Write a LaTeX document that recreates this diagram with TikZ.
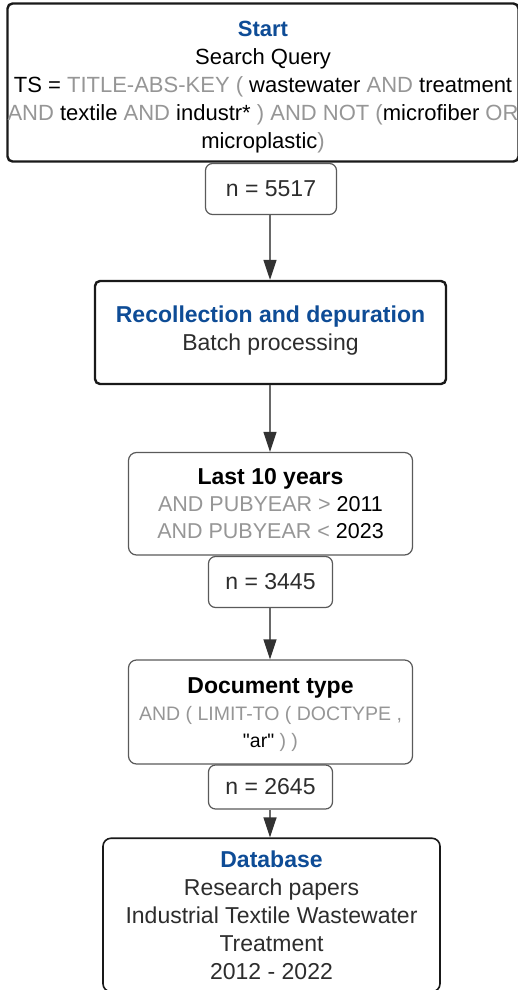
\documentclass[tikz,border=0pt]{standalone}
\usepackage{xcolor}
\usepackage{fontspec}
\setmainfont{Liberation Sans}
\usetikzlibrary{positioning, arrows.meta}
\definecolor{QBlue}{RGB}{14,76,150}
\definecolor{QGray}{RGB}{150,150,150}
\definecolor{QInk}{RGB}{45,45,45}
\definecolor{QEdge}{RGB}{90,90,90}
\definecolor{QLine}{RGB}{105,105,105}
\definecolor{QTip}{RGB}{50,50,50}
\newcommand{\kw}[1]{\textcolor{QGray}{#1}}
\newcommand{\ttl}[1]{{\bfseries\color{QBlue}#1}}

\begin{document}
\begin{tikzpicture}[x=1pt, y=-1pt,
          stage/.style={rectangle, rounded corners=5pt, draw=black!90, line width=2.4pt,
                        fill=white, inner sep=0pt, align=center, text=QInk,
                        font=\fontsize{23}{28}\selectfont},
          filter/.style={rectangle, rounded corners=8pt, draw=QEdge, line width=1.2pt,
                         fill=white, inner sep=0pt, align=center, text=black,
                         font=\fontsize{21.5}{27}\selectfont},
          count/.style={filter, rounded corners=7pt, minimum width=124pt, text=QInk,
                        font=\fontsize{23}{28}\selectfont},
          arr/.style={draw=QLine, line width=1.3pt,
                      -{Triangle[length=20pt, width=13pt, color=QTip]}}
        ]
        \useasboundingbox (0,0) rectangle (517,990);

        % search query
        \node[stage, minimum width=506pt, minimum height=158pt, text=black,
              font=\fontsize{22}{28}\selectfont] (query) at (263,82.5)
              {\rule{0pt}{24pt}\ttl{Start}\\Search Query\\
               TS = \kw{TITLE-ABS-KEY (} wastewater \kw{AND} treatment\\
               \kw{AND} textile \kw{AND} industr* \kw{) AND NOT (}microfiber \kw{OR}\\
               microplastic\kw{)}};
        \node[count, minimum width=131pt, minimum height=51pt] (n1) at (271,189)
              {n = 5517};

        % batch step
        \node[stage, minimum width=351pt, minimum height=103pt] (batch) at (270.5,332.5)
              {\ttl{Recollection and depuration}\\Batch processing\rule[-8pt]{0pt}{0pt}};

        % year filter
        \node[filter, minimum width=284pt, minimum height=102.5pt] (years) at (270.5,503.75)
              {{\fontsize{23}{28}\selectfont\bfseries Last 10 years}\\
               \kw{AND PUBYEAR >} 2011\\
               \kw{AND PUBYEAR <} 2023};
        \node[count, minimum height=51pt] (n2) at (270.5,582) {n = 3445};

        % document type filter
        \node[filter, minimum width=284pt, minimum height=104pt] (doctype) at (270.5,712)
              {\rule{0pt}{22pt}{\fontsize{23}{28}\selectfont\bfseries Document type}\\
               {\fontsize{19.5}{26}\selectfont\kw{AND ( LIMIT-TO ( DOCTYPE ,}}\\
               {\fontsize{19.5}{26}\selectfont\textquotedbl ar\textquotedbl{} \kw{) )}}};
        \node[count, minimum height=44pt] (n3) at (270.5,787) {n = 2645};

        % final set
        \node[stage, line width=1.6pt, rounded corners=8pt, minimum width=337pt,
              minimum height=153.5pt] (db) at (271.5,915)
              {\ttl{Database}\\Research papers\\Industrial Textile Wastewater\\
               Treatment\\2012 - 2022};

        \draw[arr] (n1.south -| 270,0) -- (batch.north -| 270,0);
        \draw[arr] (batch.south -| 270,0) -- (years.north -| 270,0);
        \draw[arr] (n2.south -| 270,0) -- (doctype.north -| 270,0);
        \draw[arr] (n3.south -| 270,0) -- (db.north -| 270,0);
      \end{tikzpicture}
\end{document}
